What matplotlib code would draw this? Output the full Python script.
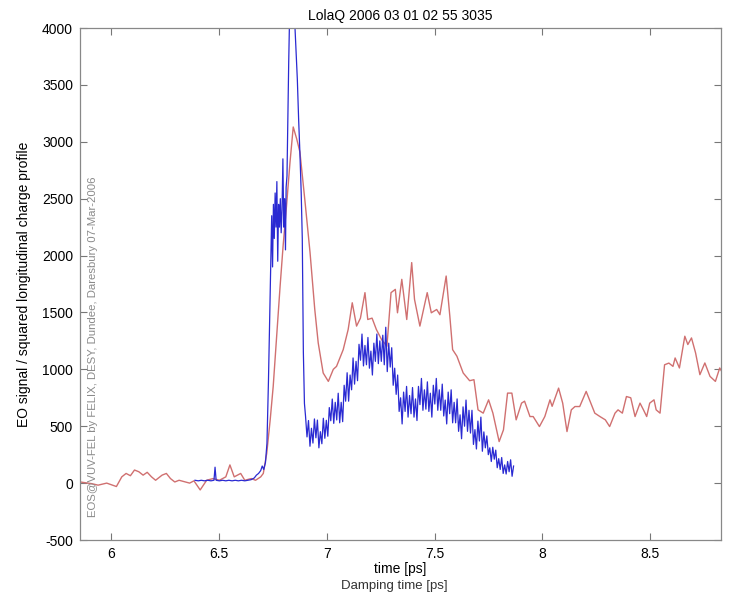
import numpy as np
import matplotlib
matplotlib.use("Agg")
import matplotlib.pyplot as plt

plt.rcParams['font.family'] = ['Liberation Sans', 'DejaVu Sans']
plt.rcParams['axes.unicode_minus'] = False

# --- data ---
# red: squared longitudinal charge profile (smooth trace)
red_t = [5.855, 5.909, 5.938, 5.978, 6.023, 6.048, 6.068, 6.088, 6.107, 6.127,
         6.147, 6.166, 6.186, 6.205, 6.235, 6.255, 6.274, 6.294, 6.314, 6.343,
         6.363, 6.383, 6.412, 6.442, 6.472, 6.501, 6.531, 6.550, 6.570, 6.600,
         6.619, 6.649, 6.669, 6.693, 6.705, 6.721, 6.737, 6.751, 6.767, 6.783,
         6.797, 6.813, 6.829, 6.844, 6.860, 6.875, 6.899, 6.922, 6.944, 6.960,
         6.983, 7.007, 7.030, 7.045, 7.076, 7.099, 7.118, 7.138, 7.156, 7.177,
         7.190, 7.210, 7.230, 7.254, 7.279, 7.298, 7.318, 7.328, 7.348, 7.371,
         7.394, 7.407, 7.432, 7.466, 7.485, 7.510, 7.525, 7.554, 7.571, 7.584,
         7.604, 7.633, 7.663, 7.683, 7.702, 7.726, 7.751, 7.771, 7.800, 7.820,
         7.839, 7.859, 7.879, 7.904, 7.918, 7.943, 7.958, 7.987, 8.012, 8.036,
         8.046, 8.076, 8.095, 8.115, 8.135, 8.152, 8.174, 8.204, 8.229, 8.244,
         8.268, 8.293, 8.313, 8.338, 8.352, 8.372, 8.391, 8.411, 8.431, 8.454,
         8.470, 8.485, 8.499, 8.519, 8.529, 8.547, 8.568, 8.588, 8.607, 8.617,
         8.637, 8.662, 8.676, 8.693, 8.712, 8.732, 8.755, 8.779, 8.804, 8.824,
         8.843]
red_v = [10, -5, -18, 0, -30, 55, 85, 65, 115, 100,
         70, 95, 55, 25, 70, 85, 40, 10, 25, 10,
         0, 20, -60, 25, 40, 25, 55, 160, 55, 85,
         25, 40, 25, 55, 85, 262, 556, 850, 1290, 1730,
         2085, 2440, 2820, 3130, 3026, 2910, 2468, 2027, 1526, 1232,
         968, 894, 1000, 1026, 1173, 1350, 1585, 1380, 1450, 1674,
         1438, 1450, 1350, 1262, 1203, 1674, 1703, 1497, 1791, 1438,
         1938, 1615, 1380, 1674, 1497, 1526, 1480, 1820, 1468, 1173,
         1115, 968, 900, 909, 644, 615, 732, 615, 365, 468,
         791, 791, 556, 703, 720, 585, 585, 497, 585, 732,
         675, 835, 703, 453, 644, 673, 673, 806, 688, 615,
         585, 556, 497, 615, 644, 615, 761, 750, 585, 703,
         644, 585, 703, 732, 644, 615, 1040, 1055, 1026, 1100,
         1012, 1291, 1218, 1276, 1144, 953, 1056, 938, 894, 1012,
         950]

# blue: EO signal, baseline + main spike
blue_head_t = [6.388, 6.403, 6.417, 6.432, 6.447, 6.462, 6.476, 6.481, 6.486, 6.501,
               6.516, 6.531, 6.545, 6.560, 6.575, 6.589, 6.604, 6.619, 6.634, 6.648,
               6.663, 6.673, 6.683, 6.693, 6.700, 6.707, 6.715, 6.722, 6.729, 6.735,
               6.740, 6.744, 6.748, 6.752, 6.756, 6.760, 6.764, 6.768, 6.772, 6.776,
               6.780, 6.784, 6.788, 6.792, 6.796, 6.800, 6.804, 6.808, 6.811, 6.815,
               6.819, 6.823, 6.827, 6.833, 6.839, 6.845, 6.851, 6.857, 6.863, 6.869,
               6.875, 6.881, 6.886, 6.891, 6.896]
blue_head_v = [25, 20, 25, 20, 25, 20, 25, 140, 25, 20,
               25, 20, 25, 20, 25, 20, 25, 20, 25, 30,
               45, 70, 85, 110, 150, 120, 180, 350, 900, 1500,
               2000, 2350, 1900, 2450, 2150, 2550, 2250, 2650, 1950, 2450,
               2250, 2500, 2200, 2400, 2850, 2250, 2500, 2050, 2600, 2700,
               3200, 3700, 4100, 4200, 4150, 4250, 4050, 3800, 3550, 3200,
               2900, 2550, 2150, 1150, 700]

# blue: noisy tail, one sample every 6.9 fs from 6.901 ps
blue_tail_start = 6.901
blue_tail_step = 0.0069
blue_tail_v = [590, 406, 550, 324, 482, 352, 564, 398, 554, 310,
               452, 346, 570, 394, 552, 412, 664, 548, 739, 525,
               710, 555, 790, 530, 710, 540, 860, 720, 970, 720,
               950, 820, 1100, 870, 1070, 900, 1220, 1080, 1310, 1030,
               1210, 1040, 1280, 1010, 1160, 950, 1230, 1070, 1310, 1050,
               1250, 1070, 1300, 1040, 1370, 980, 1230, 1020, 1190, 860,
               1010, 780, 950, 630, 750, 520, 800, 630, 850, 580,
               770, 610, 840, 580, 740, 550, 850, 690, 920, 640,
               820, 650, 890, 630, 790, 580, 860, 695, 920, 640,
               820, 640, 870, 590, 730, 520, 800, 610, 820, 530,
               710, 530, 740, 455, 600, 390, 670, 500, 730, 455,
               640, 440, 640, 340, 470, 300, 545, 370, 580, 280,
               450, 310, 415, 250, 310, 190, 315, 210, 290, 135,
               215, 120, 225, 85, 160, 80, 190, 100, 205, 60,
               150]

title = 'LolaQ 2006 03 01 02 55 3035'
x_ticks = [6, 6.5, 7, 7.5, 8, 8.5]
x_ticklabels = ['6', '6.5', '7', '7.5', '8', '8.5']
y_ticks = list(range(-500, 4001, 500))

blue_t = blue_head_t + list(blue_tail_start + blue_tail_step * np.arange(len(blue_tail_v)))
blue_v = blue_head_v + blue_tail_v

# --- figure ---
fig = plt.figure(figsize=(7.3, 5.92), dpi=100)
ax = fig.add_axes([80 / 730, 52 / 592, 641 / 730, 512 / 592])

ax.plot(red_t, red_v, color='#d07070', lw=1.0)
ax.plot(blue_t, blue_v, color='#2a2ad2', lw=0.9)

ax.set_xlim(5.854, 8.83)
ax.set_ylim(-500, 4000)
ax.set_xticks(x_ticks)
ax.set_xticklabels(x_ticklabels)
ax.set_yticks(y_ticks)
ax.tick_params(direction='in', top=True, right=True, length=5, width=0.8,
               color='#777777', labelsize=10, pad=5)
for s in ax.spines.values():
    s.set_color('#888888')
    s.set_linewidth(0.9)

ax.set_title(title, fontsize=10, pad=6)
ax.set_xlabel('time [ps]', fontsize=10, labelpad=1)
ax.set_ylabel('EO signal / squared longitudinal charge profile', fontsize=10, labelpad=8)

ax.text(0.012, 0.045, 'EOS@VUV-FEL by FELIX, DESY, Dundee, Daresbury 07-Mar-2006',
        transform=ax.transAxes, rotation=90, ha='left', va='bottom',
        fontsize=8.2, color='#8a8a8a')

fig.text(0.54, 0.0, 'Damping time [ps]', ha='center', va='bottom',
         fontsize=9.5, color='#333333')

fig.savefig('out.png', dpi=100)
